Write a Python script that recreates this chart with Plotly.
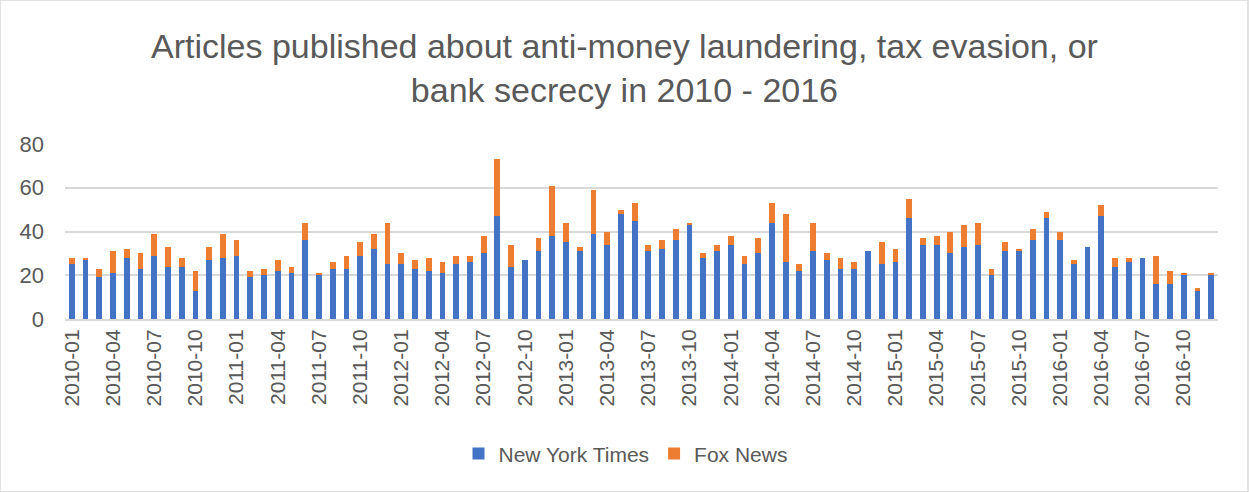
import plotly.graph_objects as go

years = [2010, 2011, 2012, 2013, 2014, 2015, 2016]
months = [f"{y}-{m:02d}" for y in years for m in range(1, 13)]

nyt = [25, 27, 19, 21, 28, 23, 29, 24, 24, 13, 27, 28,
       29, 19, 20, 22, 21, 36, 20, 23, 23, 29, 32, 25,
       25, 23, 22, 21, 25, 26, 30, 47, 24, 27, 31, 38,
       35, 31, 39, 34, 48, 45, 31, 32, 36, 43, 28, 31,
       34, 25, 30, 44, 26, 22, 31, 27, 23, 23, 31, 25,
       26, 46, 34, 34, 30, 33, 34, 20, 31, 31, 36, 46,
       36, 25, 33, 47, 24, 26, 28, 16, 16, 20, 13, 20]
fox = [3, 1, 4, 10, 4, 7, 10, 9, 4, 9, 6, 11,
       7, 3, 3, 5, 3, 8, 1, 3, 6, 6, 7, 19,
       5, 4, 6, 5, 4, 3, 8, 26, 10, 0, 6, 23,
       9, 2, 20, 6, 2, 8, 3, 4, 5, 1, 2, 3,
       4, 4, 7, 9, 22, 3, 13, 3, 5, 3, 0, 10,
       6, 9, 3, 4, 10, 10, 10, 3, 4, 1, 5, 3,
       4, 2, 0, 5, 4, 2, 0, 13, 6, 1, 1, 1]
tick_labels = months[::3]
y_ticks = [0, 20, 40, 60, 80]

title_text = "Articles published about anti-money laundering, tax evasion, or<br>bank secrecy in 2010 - 2016"

FONT = "Liberation Sans"
GREY = "#595959"

fig = go.Figure()
fig.add_trace(go.Bar(x=months, y=nyt, name="New York Times", marker=dict(color="#4472C4", line=dict(width=0))))
fig.add_trace(go.Bar(x=months, y=fox, name="Fox News", marker=dict(color="#ED7D31", line=dict(width=0))))

plot_h = 492 - 144 - 173

fig.update_layout(
    barmode="stack",
    bargap=0.58,
    width=1249, height=492,
    margin=dict(l=65, r=31, t=144, b=173),
    paper_bgcolor="white", plot_bgcolor="white",
    font=dict(family=FONT, color=GREY),
    annotations=[dict(text=title_text, xref="paper", yref="paper",
                      x=0.5 + (624 - 65 - 1153 / 2) / 1153, y=1 + (144 - 68.5) / plot_h,
                      xanchor="center", yanchor="middle", showarrow=False, align="center",
                      font=dict(family=FONT, size=34, color=GREY))],
    legend=dict(orientation="h", x=0.5 - 16 / 1153, xanchor="center", y=-0.77, yanchor="middle",
                font=dict(family=FONT, size=21, color=GREY), traceorder="normal",
                itemwidth=30),
    xaxis=dict(type="category", tickmode="array", tickvals=tick_labels, ticktext=tick_labels,
               tickangle=-90, tickfont=dict(family=FONT, size=21, color=GREY),
               showgrid=False, showline=True, linecolor="#D9D9D9", linewidth=2, ticks=""),
    yaxis=dict(range=[0, 80], tickvals=y_ticks, tickfont=dict(family=FONT, size=22, color=GREY),
               showgrid=True, gridcolor="#D9D9D9", gridwidth=2, zeroline=False, showline=False,
               ticks="", ticklabelstandoff=20),
    shapes=[dict(type="rect", xref="paper", yref="paper", x0=-65/1153, x1=1+30/1153,
                 y0=-172.5/174.5, y1=1+143.5/174.5, line=dict(color="#D9D9D9", width=1.5),
                 fillcolor="rgba(0,0,0,0)", layer="below")],
)

fig.write_html("out.html")
